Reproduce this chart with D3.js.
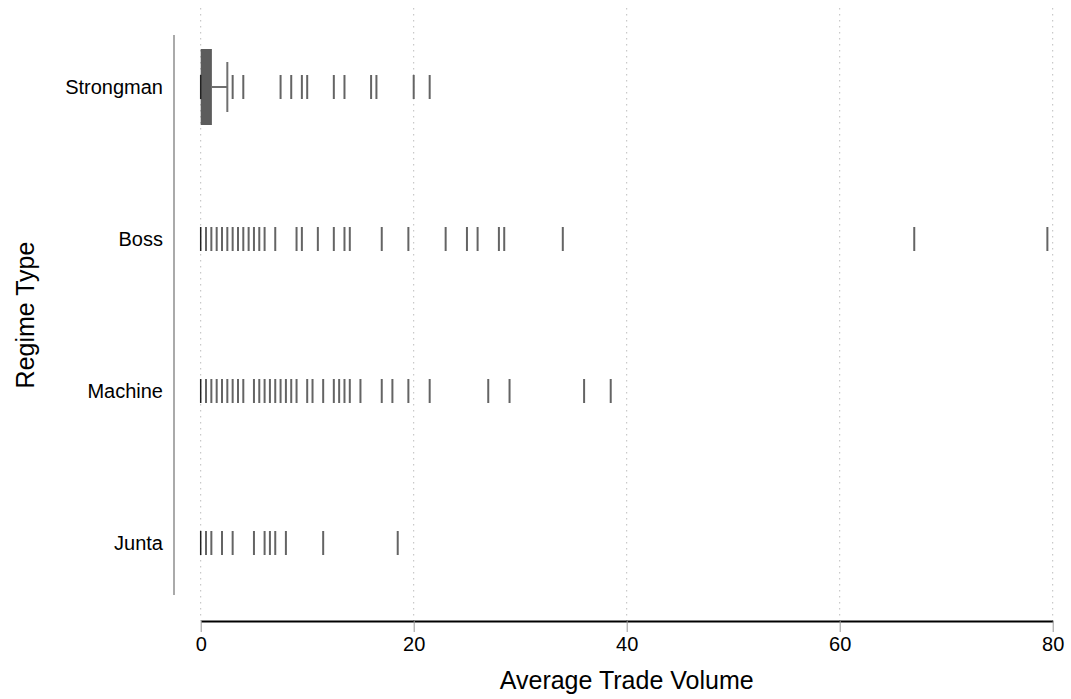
<!DOCTYPE html>
<html>
<head>
<meta charset="utf-8">
<script src="https://cdn.jsdelivr.net/npm/d3@7"></script>
<style>
  body { margin: 0; background: #fff; }
  svg { display: block; font-family: "Liberation Sans", Arial, sans-serif; }
  .chart__grid line { stroke: #bdbdbd; stroke-dasharray: 1.5 4.5; }
  .chart__axis--x .domain { stroke: #000; stroke-width: 2; }
  .chart__axis--x .tick line { stroke: #999; }
  .chart__axis text { fill: #000; }
</style>
</head>
<body>
<div id="chart"></div>
<script>
// regime types, top to bottom
const categories = ['Strongman', 'Boss', 'Machine', 'Junta'];

// box statistics per regime type
const q1 = [0, 0, 0, 0];
const median = [0, 0, 0, 0];
const q3 = [1.05, 0, 0, 0];
const whiskerHigh = [2.5, 0, 0, 0];

// outlying observations per regime type
const outliersStrongman = [3, 4, 7.5, 8.5, 9.5, 10, 12.5, 13.5, 16, 16.5, 20, 21.5];
const outliersBoss = [0.5, 1, 1.5, 2, 2.5, 3, 3.5, 4, 4.5, 5, 5.5, 6, 7, 9, 9.5, 11, 12.5,
  13.5, 14, 17, 19.5, 23, 25, 26, 28, 28.5, 34, 67, 79.5];
const outliersMachine = [0.5, 1, 1.5, 2, 2.5, 3, 3.5, 4, 5, 5.5, 6, 6.5, 7, 7.5, 8, 8.5, 9,
  10, 10.5, 11.5, 12.5, 13, 13.5, 14, 15, 17, 18, 19.5, 21.5, 27, 29, 36, 38.5];
const outliersJunta = [0.5, 1, 2, 3, 5, 6, 6.5, 7, 8, 11.5, 18.5];

const xTicks = [0, 20, 40, 60, 80];

const outliers = [outliersStrongman, outliersBoss, outliersMachine, outliersJunta];
const boxes = categories.map((name, i) => ({
  name,
  q1: q1[i],
  median: median[i],
  q3: q3[i],
  high: whiskerHigh[i],
  outliers: outliers[i]
}));

const width = 1071;
const height = 699;
const plotLeft = 200.7, plotRight = 1052.7;
const plotTop = 11, plotBottom = 619;
const axisY = 621;

const svg = d3.select('#chart')
  .append('svg')
    .attr('width', width)
    .attr('height', height);

const scaleX = d3.scaleLinear().domain([0, 80]).range([plotLeft, plotRight]);
const scaleY = d3.scaleBand().domain(categories).range([plotTop, plotBottom]);
const cy = name => scaleY(name) + scaleY.bandwidth() / 2;

// dotted vertical grid
svg.append('g')
    .attr('class', 'chart__grid')
  .selectAll('line')
  .data(xTicks)
  .enter()
  .append('line')
    .attr('x1', d => scaleX(d))
    .attr('x2', d => scaleX(d))
    .attr('y1', 8)
    .attr('y2', axisY);

// x axis
const xAxis = d3.axisBottom(scaleX)
  .tickValues(xTicks)
  .tickSize(11)
  .tickPadding(5)
  .tickSizeOuter(0);

const gx = svg.append('g')
    .attr('class', 'chart__axis chart__axis--x')
    .attr('transform', `translate(0, ${axisY})`)
    .call(xAxis);

gx.selectAll('text')
    .attr('font-size', 20)
    .attr('font-family', '"Liberation Sans", Arial, sans-serif');

svg.append('text')
    .attr('x', (plotLeft + plotRight) / 2)
    .attr('y', 689)
    .attr('text-anchor', 'middle')
    .attr('font-size', 25)
    .text('Average Trade Volume');

// y axis: short grey spine with category labels
svg.append('line')
    .attr('x1', 174)
    .attr('x2', 174)
    .attr('y1', 35)
    .attr('y2', 595)
    .attr('stroke', '#aaa')
    .attr('stroke-width', 2);

svg.append('g')
    .attr('class', 'chart__axis chart__axis--y')
  .selectAll('text')
  .data(categories)
  .enter()
  .append('text')
    .attr('x', 163)
    .attr('y', d => cy(d))
    .attr('dy', '0.35em')
    .attr('text-anchor', 'end')
    .attr('font-size', 20)
    .text(d => d);

svg.append('text')
    .attr('transform', `translate(34, ${(35 + 595) / 2}) rotate(-90)`)
    .attr('text-anchor', 'middle')
    .attr('font-size', 25)
    .text('Regime Type');

// boxes
const group = svg.selectAll('.chart__box')
  .data(boxes)
  .enter()
  .append('g')
    .attr('class', 'chart__box');

group.filter(d => d.high > d.q3)
  .append('line')
    .attr('x1', d => scaleX(d.q3))
    .attr('x2', d => scaleX(d.high))
    .attr('y1', d => cy(d.name))
    .attr('y2', d => cy(d.name))
    .attr('stroke', '#707070')
    .attr('stroke-width', 2);

group.filter(d => d.high > d.q3)
  .append('line')
    .attr('x1', d => scaleX(d.high))
    .attr('x2', d => scaleX(d.high))
    .attr('y1', d => cy(d.name) - 25)
    .attr('y2', d => cy(d.name) + 25)
    .attr('stroke', '#707070')
    .attr('stroke-width', 2);

group.append('rect')
    .attr('x', d => scaleX(d.q1))
    .attr('y', d => cy(d.name) - 38)
    .attr('width', d => scaleX(d.q3) - scaleX(d.q1))
    .attr('height', 76)
    .attr('fill', '#5c5c5c');

group.selectAll('.chart__outlier')
  .data(d => d.outliers.map(v => ({ name: d.name, value: v })))
  .enter()
  .append('line')
    .attr('class', 'chart__outlier')
    .attr('x1', d => scaleX(d.value))
    .attr('x2', d => scaleX(d.value))
    .attr('y1', d => cy(d.name) - 12)
    .attr('y2', d => cy(d.name) + 12)
    .attr('stroke', '#646464')
    .attr('stroke-width', 2);

group.append('line')
    .attr('x1', d => scaleX(d.median))
    .attr('x2', d => scaleX(d.median))
    .attr('y1', d => cy(d.name) - 12)
    .attr('y2', d => cy(d.name) + 12)
    .attr('stroke', '#222')
    .attr('stroke-width', 1.5);
</script>
</body>
</html>
